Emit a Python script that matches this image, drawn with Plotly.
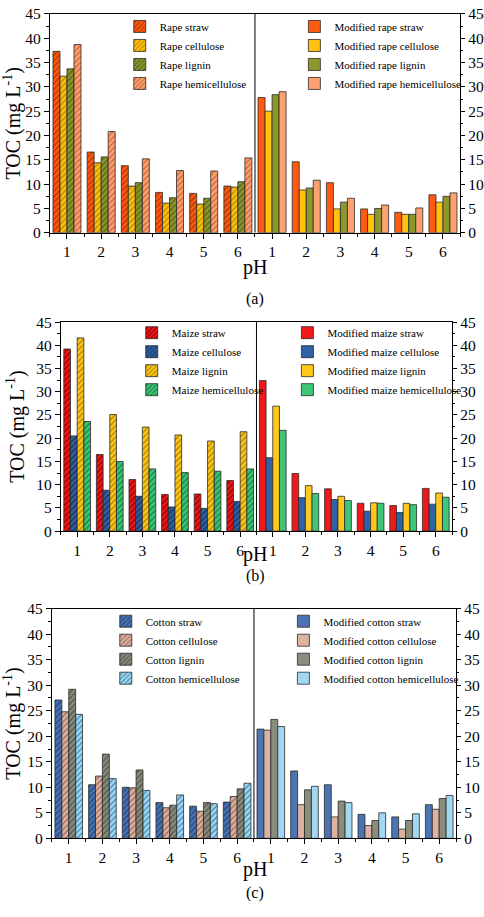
import plotly.graph_objects as go

ph_labels = ["1", "2", "3", "4", "5", "6"]

# Panel (a) - rape
rape_names = ["Rape straw", "Rape cellulose", "Rape lignin", "Rape hemicellulose"]
mod_rape_names = ["Modified rape straw", "Modified rape cellulose", "Modified rape lignin", "Modified rape hemicellulose"]
rape_straw = [37.3, 16.6, 13.8, 8.3, 8.1, 9.6]
rape_cellulose = [32.2, 14.4, 9.6, 6.1, 5.9, 9.4]
rape_lignin = [33.7, 15.6, 10.3, 7.2, 7.1, 10.5]
rape_hemicellulose = [38.7, 20.8, 15.2, 12.8, 12.7, 15.4]
mod_rape_straw = [27.8, 14.6, 10.3, 4.9, 4.2, 7.8]
mod_rape_cellulose = [25.0, 8.8, 4.9, 3.8, 3.8, 6.3]
mod_rape_lignin = [28.4, 9.2, 6.3, 5.0, 3.8, 7.5]
mod_rape_hemicellulose = [29.0, 10.8, 7.1, 5.7, 5.1, 8.2]

# Panel (b) - maize
maize_names = ["Maize straw", "Maize cellulose", "Maize lignin", "Maize hemicellulose"]
mod_maize_names = ["Modified maize straw", "Modified maize cellulose", "Modified maize lignin", "Modified maize hemicellulose"]
maize_straw = [39.2, 16.5, 11.1, 7.9, 8.0, 10.9]
maize_cellulose = [20.5, 8.8, 7.5, 5.2, 4.9, 6.4]
maize_lignin = [41.6, 25.1, 22.4, 20.7, 19.4, 21.4]
maize_hemicellulose = [23.6, 15.0, 13.4, 12.6, 12.9, 13.4]
mod_maize_straw = [32.4, 12.4, 9.1, 6.0, 5.5, 9.2]
mod_maize_cellulose = [15.8, 7.2, 6.8, 4.3, 4.0, 5.8]
mod_maize_lignin = [26.9, 9.8, 7.5, 6.1, 6.0, 8.2]
mod_maize_hemicellulose = [21.7, 8.1, 6.6, 6.0, 5.7, 7.3]

# Panel (c) - cotton
cotton_names = ["Cotton straw", "Cotton cellulose", "Cotton lignin", "Cotton hemicellulose"]
mod_cotton_names = ["Modified cotton straw", "Modified cotton cellulose", "Modified cotton lignin", "Modified cotton hemicellulose"]
cotton_straw = [27.1, 10.5, 10.0, 7.0, 6.3, 7.1]
cotton_cellulose = [24.8, 12.2, 9.9, 6.0, 5.3, 8.2]
cotton_lignin = [29.2, 16.5, 13.4, 6.5, 7.0, 9.7]
cotton_hemicellulose = [24.3, 11.7, 9.4, 8.5, 6.8, 10.8]
mod_cotton_straw = [21.4, 13.2, 10.5, 4.7, 4.2, 6.6]
mod_cotton_cellulose = [21.2, 6.6, 4.2, 2.5, 1.8, 5.7]
mod_cotton_lignin = [23.3, 9.5, 7.3, 3.5, 3.5, 7.8]
mod_cotton_hemicellulose = [21.9, 10.2, 7.0, 5.0, 4.8, 8.4]

rape_colors = ["#FF5A10", "#FFC20E", "#8C972C", "#FFA070"]
rape_stripes = ["#B23600", "#C08A00", "#5A6218", "#CC6A3A"]
maize_colors = ["#F01818", "#2F62A6", "#FFC81A", "#3CC878"]
maize_stripes = ["#8E0000", "#16345E", "#B08600", "#1E7E46"]
cotton_colors = ["#4A74B2", "#DDB2A2", "#8A8D7B", "#A2D8F2"]
cotton_stripes = ["#26467E", "#A0705E", "#53564A", "#4A8CB6"]

FONT = "Liberation Serif"
W, H = 484, 917


def py(y_px):
    return 1 - y_px / H


panels = [
    dict(left=[rape_straw, rape_cellulose, rape_lignin, rape_hemicellulose],
         right=[mod_rape_straw, mod_rape_cellulose, mod_rape_lignin, mod_rape_hemicellulose],
         lnames=rape_names, rnames=mod_rape_names, colors=rape_colors, stripes=rape_stripes,
         xdom=[50 / W, 461 / W], ydom=[py(228), py(5)],
         leg_l=(120 / W, py(3)), leg_r=(295 / W, py(3)),
         label="(a)", label_y=py(295), ph_y=py(263)),
    dict(left=[maize_straw, maize_cellulose, maize_lignin, maize_hemicellulose],
         right=[mod_maize_straw, mod_maize_cellulose, mod_maize_lignin, mod_maize_hemicellulose],
         lnames=maize_names, rnames=mod_maize_names, colors=maize_colors, stripes=maize_stripes,
         xdom=[61 / W, 453 / W], ydom=[py(532), py(319)],
         leg_l=(132 / W, py(315)), leg_r=(288 / W, py(315)),
         label="(b)", label_y=py(578), ph_y=py(556)),
    dict(left=[cotton_straw, cotton_cellulose, cotton_lignin, cotton_hemicellulose],
         right=[mod_cotton_straw, mod_cotton_cellulose, mod_cotton_lignin, mod_cotton_hemicellulose],
         lnames=cotton_names, rnames=mod_cotton_names, colors=cotton_colors, stripes=cotton_stripes,
         xdom=[52 / W, 457 / W], ydom=[py(845), py(611)],
         leg_l=(106 / W, py(609)), leg_r=(284 / W, py(609)),
         label="(c)", label_y=py(901), ph_y=py(877)),
]

fig = go.Figure()
layout = dict(
    width=W, height=H, autosize=False,
    margin=dict(l=0, r=0, t=0, b=0),
    paper_bgcolor="white", plot_bgcolor="white",
    barmode="group", bargap=0.18, bargroupgap=0,
    font=dict(family=FONT, color="black"),
    shapes=[], annotations=[],
)

n = len(ph_labels)
left_x = list(range(n))
right_x = list(range(n, 2 * n))
TICKFONT = dict(size=15.5, family=FONT, color="black")

for i, p in enumerate(panels):
    k = i + 1
    xa = "x" if k == 1 else f"x{k}"
    yl_idx = 2 * i + 1
    yr_idx = 2 * i + 2
    ya = "y" if yl_idx == 1 else f"y{yl_idx}"
    yr = f"y{yr_idx}"
    leg_l = "legend" if yl_idx == 1 else f"legend{yl_idx}"
    leg_r = f"legend{yr_idx}"
    for j in range(4):
        fig.add_trace(go.Bar(
            x=left_x, y=p["left"][j], name=p["lnames"][j], xaxis=xa, yaxis=ya,
            offsetgroup=str(j), legend=leg_l,
            marker=dict(color=p["colors"][j], line=dict(color="#2a2a2a", width=0.8),
                        pattern=dict(shape="/", fgcolor=p["stripes"][j], bgcolor=p["colors"][j],
                                     fillmode="replace", size=4, solidity=0.35)),
        ))
    for j in range(4):
        fig.add_trace(go.Bar(
            x=right_x, y=p["right"][j], name=p["rnames"][j], xaxis=xa, yaxis=ya,
            offsetgroup=str(j), legend=leg_r,
            marker=dict(color=p["colors"][j], line=dict(color="#2a2a2a", width=0.8)),
        ))
    # invisible trace so that the right-hand axis is drawn
    fig.add_trace(go.Scatter(x=[0], y=[0], xaxis=xa, yaxis=yr, mode="markers",
                             marker=dict(opacity=0), showlegend=False, hoverinfo="skip"))

    xkey = "xaxis" if k == 1 else f"xaxis{k}"
    ykey = "yaxis" if yl_idx == 1 else f"yaxis{yl_idx}"
    yrkey = f"yaxis{yr_idx}"
    layout[xkey] = dict(
        domain=p["xdom"], anchor=ya, range=[-0.5, 2 * n - 0.5],
        tickmode="array", tickvals=left_x + right_x, ticktext=ph_labels + ph_labels,
        ticks="outside", ticklen=5, tickcolor="black", tickfont=TICKFONT,
        minor=dict(ticks="outside", tickmode="linear", tick0=0.5, dtick=1, ticklen=3, tickcolor="black"),
        showline=True, linecolor="black", linewidth=1, mirror=True,
        showgrid=False, zeroline=False,
    )
    layout[ykey] = dict(
        domain=p["ydom"], anchor=xa, range=[0, 45], dtick=5, tick0=0,
        ticks="outside", ticklen=5, tickcolor="black", tickfont=TICKFONT,
        minor=dict(ticks="outside", dtick=2.5, ticklen=3, tickcolor="black"),
        showline=True, linecolor="black", linewidth=1,
        showgrid=False, zeroline=False,
        title=dict(text="TOC (mg L<sup>-1</sup>)", font=dict(size=20, family=FONT), standoff=6),
    )
    layout[yrkey] = dict(
        overlaying=ya, side="right", anchor=xa, range=[0, 45], dtick=5, tick0=0,
        ticks="outside", ticklen=4, tickcolor="black", tickfont=TICKFONT,
        minor=dict(ticks="outside", dtick=2.5, ticklen=2, tickcolor="black"),
        showline=True, linecolor="black", linewidth=1,
        showgrid=False, zeroline=False,
    )
    for key, pos in ((leg_l, p["leg_l"]), (leg_r, p["leg_r"])):
        layout[key] = dict(
            x=pos[0], y=pos[1], xanchor="left", yanchor="top", xref="paper", yref="paper",
            bgcolor="rgba(0,0,0,0)", font=dict(size=11, family=FONT, color="black"),
            tracegroupgap=0, itemwidth=30, traceorder="normal",
        )
    layout["shapes"].append(dict(type="line", xref=xa, yref=ya, x0=n - 0.5, x1=n - 0.5, y0=0, y1=45,
                                 line=dict(color="black", width=1)))
    layout["annotations"].append(dict(text="pH", xref="paper", yref="paper",
                                      x=256 / W, y=p["ph_y"], showarrow=False,
                                      font=dict(size=20, family=FONT), xanchor="center", yanchor="middle"))
    layout["annotations"].append(dict(text=p["label"], xref="paper", yref="paper",
                                      x=256 / W, y=p["label_y"], showarrow=False,
                                      font=dict(size=16, family=FONT), xanchor="center", yanchor="middle"))

fig.update_layout(**layout)
fig.write_html(
    "out.html",
    config={"displayModeBar": False},
    post_script="document.body.style.margin='0';document.body.style.overflow='hidden';",
)
